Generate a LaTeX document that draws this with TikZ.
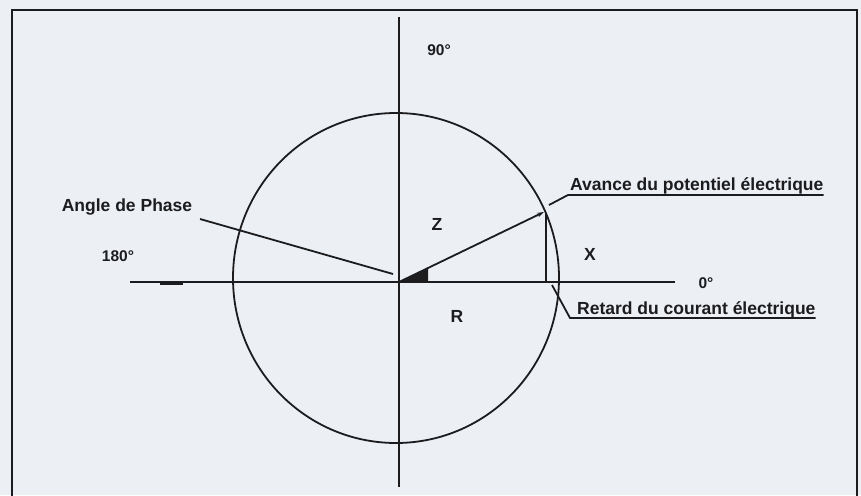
\documentclass[tikz,border=0pt]{standalone}
\usepackage{fontspec}
\setmainfont{Liberation Sans}
\usepackage{xcolor}
\usepackage{tikz}
\usetikzlibrary{arrows.meta}
\definecolor{paperbg}{RGB}{236,239,244}
\definecolor{inkgray}{RGB}{28,28,30}

\begin{document}
\begin{tikzpicture}[x=1pt, y=-1pt, every node/.style={font=\fontsize{17.5}{19}\selectfont\bfseries, text=inkgray, inner sep=0pt},
    degree/.style={font=\fontsize{15.5}{17}\selectfont\bfseries},
    axisline/.style={draw=inkgray, line width=2.3pt},
    thinline/.style={draw=inkgray, line width=1.8pt}]
    \fill[paperbg] (0,0) rectangle (861,495);
    \useasboundingbox (0,0) rectangle (861,495);
    \draw[line width=2.4pt, draw=inkgray] (12,496) -- (12,10) -- (857,10) -- (857,496);

    \coordinate (O) at (399,282);
    \coordinate (tip) at (544,212);
    \coordinate (foot) at (546,282);

    \draw[axisline] (130,282) -- (675,282);
    \draw[inkgray, line width=3pt] (160,283) -- (183,283);
    \draw[thinline] (399,17) -- (399,487);
    \draw[thinline] (396,278) ellipse [x radius=163, y radius=165];

    \node[degree] (deg90) at (439,50) {90°};
    \node[degree] (deg180) at (118,256) {180°};
    \node[degree] (deg0) at (706,283) {0°};

    \node (Z) at (437,224) {Z};
    \node (X) at (590,254) {X};
    \node (R) at (457,316) {R};

    % angle wedge and impedance vector
    \fill[inkgray] (O) -- (428,282) -- (428,268.5) -- cycle;
    \draw[thinline, -{Stealth[length=7pt,width=4.5pt]}] (O) -- (tip);
    \draw[thinline] (546,213) -- (foot);

    \node (phase) at (127,207) {Angle de Phase};
    \coordinate (phstart) at (200,219);
    \coordinate (phend) at (393,274);
    \draw[thinline] (phstart) -- (phend);

    \node[anchor=base west] (avance) at (570,190) {Avance du potentiel électrique};
    \coordinate (avul) at (568,195);
    \draw[thinline] (549,205) -- (avul) -- (avul -| avance.east);

    \node[anchor=base west] (retard) at (577,314) {Retard du courant électrique};
    \coordinate (reul) at (570,318);
    \draw[thinline] (552,285) -- (reul) -- (reul -| retard.east);
\end{tikzpicture}
\end{document}
